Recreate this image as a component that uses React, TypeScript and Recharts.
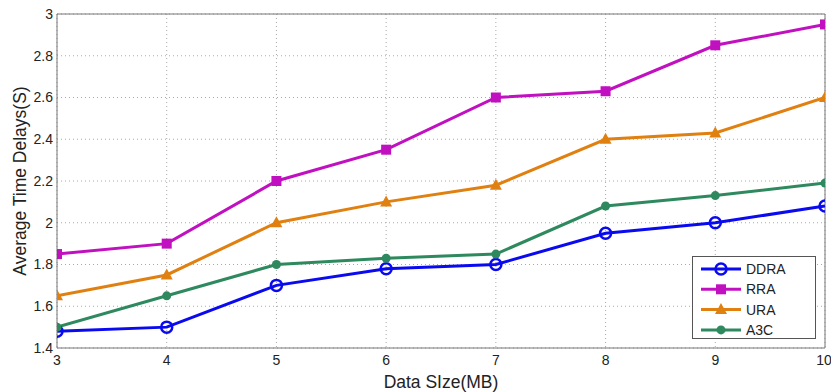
import React from "react";
import {
  LineChart,
  Line,
  XAxis,
  YAxis,
  CartesianGrid,
  ReferenceLine,
  Legend,
} from "recharts";

const dataSizes = [3, 4, 5, 6, 7, 8, 9, 10];
const ddra = [1.48, 1.5, 1.7, 1.78, 1.8, 1.95, 2.0, 2.08];
const rra = [1.85, 1.9, 2.2, 2.35, 2.6, 2.63, 2.85, 2.95];
const ura = [1.65, 1.75, 2.0, 2.1, 2.18, 2.4, 2.43, 2.6];
const a3c = [1.5, 1.65, 1.8, 1.83, 1.85, 2.08, 2.13, 2.19];
const xTicks = [3, 4, 5, 6, 7, 8, 9, 10];
const yTicks = [1.4, 1.6, 1.8, 2, 2.2, 2.4, 2.6, 2.8, 3];

const data = dataSizes.map((x, i) => ({
  x,
  DDRA: ddra[i],
  RRA: rra[i],
  URA: ura[i],
  A3C: a3c[i],
}));

const COLORS: Record<string, string> = {
  DDRA: "#0a0af0",
  RRA: "#c010c0",
  URA: "#e08010",
  A3C: "#2e8a5e",
};

const FONT = "'Liberation Sans', Arial, sans-serif";

function Marker({ kind, cx, cy, color }: { kind: string; cx: number; cy: number; color: string }) {
  if (kind === "DDRA") {
    return <circle cx={cx} cy={cy} r={5.5} fill="none" stroke={color} strokeWidth={2.5} />;
  }
  if (kind === "RRA") {
    return <rect x={cx - 5} y={cy - 5} width={10} height={10} fill={color} />;
  }
  if (kind === "URA") {
    return (
      <path
        d={`M${cx},${cy - 6.5} L${cx + 6},${cy + 4.5} L${cx - 6},${cy + 4.5} Z`}
        fill={color}
      />
    );
  }
  return <circle cx={cx} cy={cy} r={4.5} fill={color} />;
}

const makeDot = (kind: string) => (props: any) => {
  const { cx, cy, index } = props;
  if (cx == null || cy == null) return <g key={`${kind}-${index}`} />;
  return (
    <g key={`${kind}-${index}`}>
      <Marker kind={kind} cx={cx} cy={cy} color={COLORS[kind]} />
    </g>
  );
};

const series = ["DDRA", "RRA", "URA", "A3C"];

const LegendContent = () => (
  <div
    style={{
      width: 124,
      height: 83,
      border: "1px solid #555",
      background: "#fff",
      boxSizing: "border-box",
    }}
  >
    <svg width={122} height={81}>
      {series.map((s, i) => {
        const y = 12 + i * 20.3;
        return (
          <g key={s}>
            <line x1={8} x2={48} y1={y} y2={y} stroke={COLORS[s]} strokeWidth={3} />
            <Marker kind={s} cx={28} cy={y} color={COLORS[s]} />
            <text
              x={53}
              y={y + 5}
              fontFamily={FONT}
              fontSize={14}
              fill="#222"
            >
              {s}
            </text>
          </g>
        );
      })}
    </svg>
  </div>
);

export default function App() {
  return (
    <div style={{ position: "absolute", left: 0, top: 0, background: "#fff" }}>
      <LineChart
        width={831}
        height={392}
        data={data}
        margin={{ top: 14, right: 6, left: 0, bottom: 0 }}
      >
        <CartesianGrid stroke="#aaa" strokeDasharray="1 3" />
        <XAxis
          dataKey="x"
          type="number"
          domain={[3, 10]}
          ticks={xTicks}
          allowDataOverflow
          height={44}
          stroke="#777"
          tickLine={false}
          tickSize={0}
          tick={{ fill: "#222", fontSize: 14, fontFamily: FONT }}
          tickMargin={7}
          label={{
            value: "Data SIze(MB)",
            position: "insideBottom",
            offset: 4,
            fill: "#222",
            fontSize: 17.5,
            fontFamily: FONT,
          }}
        />
        <YAxis
          type="number"
          domain={[1.4, 3]}
          ticks={yTicks}
          allowDataOverflow
          width={57}
          stroke="#777"
          tickLine={false}
          tickSize={0}
          tick={{ fill: "#222", fontSize: 14, fontFamily: FONT }}
          tickMargin={4}
          label={{
            value: "Average Time Delays(S)",
            angle: -90,
            position: "insideLeft",
            offset: 20,
            style: { textAnchor: "middle" },
            fill: "#222",
            fontSize: 17.5,
            fontFamily: FONT,
          }}
        />
        <ReferenceLine y={3} stroke="#777" />
        <ReferenceLine x={10} stroke="#777" />
        {series.map((s) => (
          <Line
            key={s}
            type="linear"
            dataKey={s}
            stroke={COLORS[s]}
            strokeWidth={3}
            dot={makeDot(s)}
            activeDot={false}
            isAnimationActive={false}
          />
        ))}
        <Legend
          layout="horizontal"
          verticalAlign="middle"
          align="center"
          content={<LegendContent />}
          wrapperStyle={{ position: "absolute", left: 692, top: 256, width: 124, height: 83 }}
        />
      </LineChart>
    </div>
  );
}
